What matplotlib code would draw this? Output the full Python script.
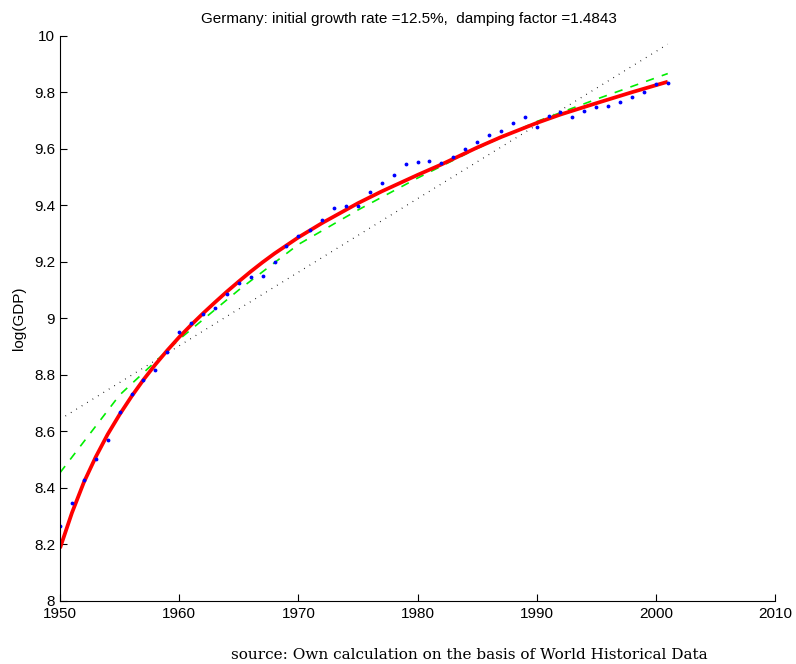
import matplotlib.pyplot as plt
import numpy as np

# log(GDP) Allemagne, 1950-2001
annees = np.arange(1950, 2002)
log_pib = [8.267, 8.348, 8.427, 8.502, 8.569, 8.668, 8.732, 8.781, 8.818, 8.880,
           8.951, 8.983, 9.017, 9.036, 9.087, 9.127, 9.148, 9.150, 9.199, 9.256,
           9.293, 9.314, 9.349, 9.392, 9.398, 9.397, 9.449, 9.480, 9.508, 9.548,
           9.555, 9.559, 9.550, 9.572, 9.601, 9.625, 9.648, 9.663, 9.691, 9.714,
           9.677, 9.718, 9.732, 9.714, 9.735, 9.749, 9.753, 9.765, 9.785, 9.803,
           9.830, 9.835]

# modele a croissance amortie
annees_modele = [1950, 1951, 1952, 1953, 1954, 1955, 1956, 1957, 1958, 1959,
                 1960, 1961, 1962, 1963, 1964, 1965, 1966, 1967, 1968, 1970,
                 1972, 1975, 1977, 1980, 1982, 1985, 1987, 1990, 1992, 1995,
                 1998, 2001]
log_modele = [8.187, 8.312, 8.420, 8.510, 8.590, 8.660, 8.724, 8.783, 8.837, 8.887,
              8.934, 8.977, 9.018, 9.057, 9.095, 9.131, 9.166, 9.199, 9.230, 9.287,
              9.338, 9.408, 9.450, 9.508, 9.545, 9.605, 9.642, 9.692, 9.722, 9.762,
              9.801, 9.838]

# ajustement polynomial
annees_poly = [1950, 1955, 1960, 1965, 1970, 1975, 1980, 1985, 1990, 1995, 2001]
log_poly = [8.454, 8.729, 8.926, 9.101, 9.262, 9.384, 9.497, 9.602, 9.697, 9.776, 9.867]

# tendance lineaire
annees_lin = [1950, 2001]
log_lin = [8.643, 9.971]

fig = plt.figure(figsize=(7.96, 6.64), dpi=100)
ax = fig.add_axes([0.0754, 0.0949, 0.8982, 0.8509])

ax.plot(annees_lin, log_lin, color="black", linestyle=(0, (0.6, 4.5)), linewidth=0.9)
ax.plot(annees_poly, log_poly, color="#00ee00", linestyle=(0, (5, 5)), linewidth=1.2)
ax.plot(annees_modele, log_modele, color="red", linewidth=2.7,
        solid_capstyle="butt", solid_joinstyle="round")
ax.plot(annees, log_pib, "b.", markersize=3.5)

ax.set_xlim(1950, 2010)
ax.set_ylim(8, 10)
ax.set_xticks(np.arange(1950, 2011, 10))
ax.set_yticks(np.arange(8, 10.01, 0.2))
ax.set_yticklabels(["8", "8.2", "8.4", "8.6", "8.8", "9", "9.2", "9.4", "9.6", "9.8", "10"])
ax.spines["top"].set_visible(False)
ax.spines["right"].set_visible(False)
ax.tick_params(direction="in", length=5, labelsize=11)
ax.tick_params(axis="x", pad=4.5)
for lab in ax.get_xticklabels() + ax.get_yticklabels():
    lab.set_family("Liberation Sans")

ax.set_ylabel("log(GDP)", family="Liberation Sans", fontsize=11, labelpad=6)
fig.text(0.514, 0.965, "Germany: initial growth rate =12.5%,  damping factor =1.4843",
         family="Liberation Sans", fontsize=11, ha="center")

fig.text(0.589, 0.008, "source: Own calculation on the basis of World Historical Data",
         family="DejaVu Serif", fontsize=11, ha="center")

plt.savefig("out.png", dpi=100)
